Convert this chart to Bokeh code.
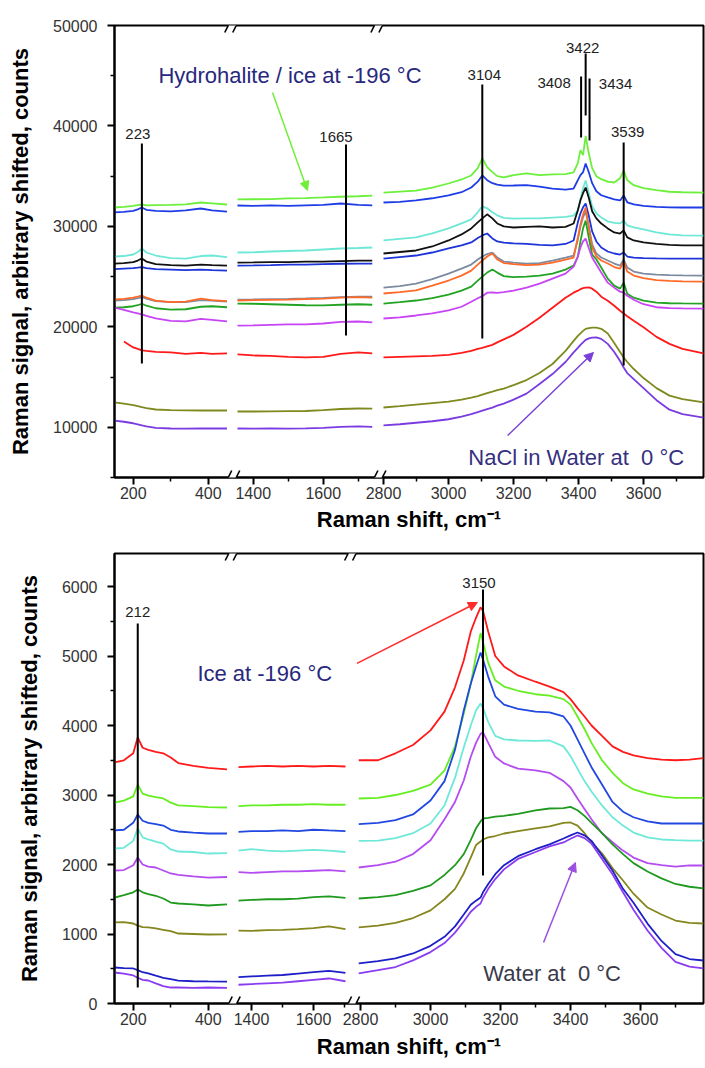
import numpy as np
from bokeh.plotting import figure
from bokeh.layouts import column
from bokeh.models import (FixedTicker, Range1d, Arrow, NormalHead,
                          NumeralTickFormatter, CustomJSTickFormatter, ColumnDataSource)
from bokeh.embed import file_html
from bokeh.resources import INLINE
from bokeh.core.properties import value

NAN = float("nan")
FONT = "Liberation Sans"
NB = "\u00a0"

# ======================= TOP PANEL DATA (NaCl solution) =======================
TOP_X1 = [150, 175, 200, 212, 223, 235, 260, 300, 340, 380, 410, 450]
TOP_X2 = [1355, 1400, 1450, 1500, 1550, 1600, 1650, 1700, 1740]
TOP_X3 = [2800, 2850, 2900, 2950, 3000, 3040, 3070, 3090, 3104, 3119, 3135, 3150, 3170,
          3200, 3240, 3280, 3320, 3360, 3385, 3398, 3406, 3414, 3422, 3432, 3442, 3455,
          3470, 3490, 3510, 3528, 3539, 3550, 3570, 3600, 3640, 3680, 3720, 3785]

G1_1 = [31880, 31950, 32050, 32120, 32180, 32100, 32120, 32150, 32200, 32380, 32300, 32180]
G1_2 = [32680, 32700, 32720, 32780, 32820, 32880, 32950, 33000, 33070]
G1_3 = [33370, 33470, 33570, 33870, 34270, 34670, 35070, 35800, 36760, 35900, 35400, 35000, 34870,
        35100, 35270, 35100, 35170, 35200, 35370, 36300, 37600, 37100, 39000, 37200, 35800, 35000,
        34700, 34450, 34370, 34800, 35550, 34600, 34100, 33800, 33600, 33450, 33400, 33370]

B1_1 = [31400, 31450, 31550, 31700, 31880, 31650, 31550, 31500, 31600, 31780, 31600, 31480]
B1_2 = [32080, 32050, 32100, 32050, 32100, 32150, 32280, 32150, 32100]
B1_3 = [32380, 32450, 32580, 32800, 33080, 33400, 33870, 34450, 35070, 34600, 34300, 34150, 34050,
        34070, 34100, 33950, 33770, 33650, 33770, 34600, 35100, 35400, 36260, 35370, 34300, 33500,
        33100, 32880, 32700, 32580, 33080, 32400, 32200, 32050, 31950, 31900, 31880, 31880]

C_1 = [27000, 27050, 27200, 27450, 27800, 27400, 27100, 26850, 26800, 27050, 27100, 26950]
C_2 = [27400, 27420, 27500, 27550, 27600, 27700, 27800, 27850, 27900]
C_3 = [28600, 28750, 28900, 29300, 29800, 30300, 30700, 31400, 32000, 31800, 31400, 31100, 30850,
       30780, 30790, 30800, 30880, 30950, 31080, 31600, 32700, 33800, 34570, 33300, 32000, 31300,
       30880, 30500, 30350, 30290, 30580, 30100, 29900, 29700, 29400, 29200, 29100, 29090]

K_1 = [26300, 26350, 26450, 26600, 26800, 26500, 26250, 26150, 26100, 26200, 26150, 26100]
K_2 = [26400, 26420, 26450, 26450, 26500, 26500, 26550, 26600, 26600]
K_3 = [27300, 27450, 27600, 28000, 28600, 29200, 29800, 30400, 30800, 31200, 30800, 30290, 30000,
       29890, 29950, 30000, 29890, 29950, 30290, 31600, 32600, 33300, 33870, 32800, 31500, 30800,
       30280, 29800, 29400, 29290, 29600, 28900, 28600, 28400, 28250, 28150, 28100, 28100]

B2_1 = [25750, 25800, 25850, 25900, 25950, 25850, 25750, 25700, 25650, 25700, 25650, 25600]
B2_2 = [26100, 26120, 26150, 26200, 26200, 26250, 26280, 26300, 26300]
B2_3 = [26800, 26950, 27100, 27400, 27800, 28100, 28400, 28850, 29100, 29290, 28800, 28500, 28380,
        28300, 28250, 28150, 28100, 28250, 28600, 30400, 31300, 31900, 32280, 31000, 29500, 28500,
        27900, 27500, 27300, 27200, 27400, 27000, 26900, 26850, 26820, 26800, 26800, 26800]

GR_1 = [22600, 22650, 22750, 22850, 22950, 22800, 22550, 22450, 22450, 22650, 22600, 22500]
GR_2 = [22700, 22720, 22750, 22780, 22820, 22870, 22950, 23000, 23000]
GR_3 = [23900, 24050, 24300, 24750, 25300, 25800, 26200, 26700, 27000, 27250, 27400, 26900, 26500,
        26400, 26300, 26350, 26600, 26900, 27100, 28700, 30000, 30900, 31500, 30000, 28200, 27300,
        26900, 26600, 26300, 26100, 26700, 25900, 25500, 25300, 25200, 25150, 25120, 25100]

O_1 = [22720, 22780, 22900, 23000, 23120, 22900, 22600, 22450, 22500, 22800, 22650, 22550]
O_2 = [22620, 22650, 22680, 22700, 22750, 22800, 22900, 22950, 22900]
O_3 = [23320, 23450, 23620, 24100, 24610, 25100, 25600, 26200, 26600, 27000, 27300, 26700, 26350,
       26250, 26150, 26200, 26400, 26700, 26900, 28900, 30200, 31200, 31880, 29800, 27900, 27000,
       26600, 26300, 25950, 25800, 26500, 25500, 25100, 24850, 24650, 24580, 24530, 24510]

DG_1 = [21920, 21950, 22050, 22150, 22300, 22100, 21850, 21720, 21750, 22000, 22050, 21950]
DG_2 = [22320, 22300, 22250, 22200, 22150, 22130, 22200, 22250, 22200]
DG_3 = [22320, 22450, 22620, 22850, 23200, 23600, 24000, 24600, 25000, 25400, 25700, 25400, 25050,
        24950, 25000, 25100, 25300, 25700, 26100, 27000, 28500, 29800, 30580, 28800, 27200, 26700,
        25900, 24800, 24100, 23800, 24400, 23300, 22900, 22600, 22420, 22350, 22330, 22320]

V_1 = [21920, 21700, 21450, 21350, 21250, 21100, 20850, 20600, 20550, 20800, 20700, 20550]
V_2 = [20130, 20150, 20200, 20250, 20250, 20330, 20500, 20530, 20450]
V_3 = [20830, 20950, 21130, 21350, 21650, 22000, 22500, 22850, 23050, 23400, 23420, 23380, 23450,
       23600, 23900, 24300, 24800, 25300, 26000, 27000, 27900, 28500, 28790, 27800, 26900, 26200,
       25400, 24400, 23900, 23500, 23400, 23100, 22700, 22250, 21950, 21870, 21840, 21820]

R_1 = [NAN, 18540, 17950, 17800, 17650, 17600, 17500, 17450, 17300, 17400, 17300, 17350]
R_2 = [17250, 17150, 17100, 17000, 16950, 17000, 17300, 17450, 17350]
R_3 = [16950, 17000, 17050, 17100, 17200, 17400, 17600, 17800, 17900, 18050, 18200, 18450, 18750,
       19200, 20000, 20900, 21900, 22900, 23400, 23600, 23750, 23850, 23900, 23920, 23800, 23500,
       23000, 22600, 22100, 21600, 21330, 21050, 20600, 19950, 19000, 18300, 17800, 17350]

OL_1 = [12470, 12350, 12200, 12100, 12000, 11900, 11770, 11700, 11680, 11670, 11680, 11670]
OL_2 = [11570, 11570, 11580, 11600, 11620, 11700, 11820, 11870, 11850]
OL_3 = [11970, 12100, 12250, 12400, 12550, 12750, 12950, 13100, 13250, 13400, 13550, 13700, 13850,
        14200, 14700, 15400, 16300, 17600, 18600, 19100, 19350, 19600, 19800, 19880, 19930, 19930,
        19800, 19330, 18400, 17500, 16950, 16500, 15800, 14900, 13900, 13150, 12800, 12470]

P_1 = [10670, 10550, 10400, 10300, 10200, 10100, 9950, 9880, 9870, 9880, 9880, 9880]
P_2 = [9880, 9870, 9880, 9870, 9900, 9950, 10050, 10080, 10050]
P_3 = [10180, 10300, 10450, 10600, 10800, 11050, 11300, 11500, 11650, 11800, 11950, 12150, 12350,
       12750, 13350, 14300, 15300, 16500, 17450, 17900, 18200, 18450, 18700, 18850, 18930, 18940,
       18800, 18300, 17500, 16600, 15950, 15400, 14800, 13900, 12700, 11750, 11300, 10970]

TOP_COLORS = ["#6cf03c", "#1f3de6", "#6ee8d6", "#111111", "#1c34d8", "#7d8ba0",
              "#ff6a28", "#23a323", "#c845f5", "#ff1a1a", "#7f8a1e", "#7a3ce0"]
TOP_SERIES = [(G1_1, G1_2, G1_3), (B1_1, B1_2, B1_3), (C_1, C_2, C_3), (K_1, K_2, K_3),
              (B2_1, B2_2, B2_3), (GR_1, GR_2, GR_3), (O_1, O_2, O_3), (DG_1, DG_2, DG_3),
              (V_1, V_2, V_3), (R_1, R_2, R_3), (OL_1, OL_2, OL_3), (P_1, P_2, P_3)]

TOP_PEAKS = [223, 1665, 3104, 3408, 3422, 3434, 3539]
TOP_PEAK_LO = [16350, 19140, 18840, 38850, 41040, 38550, 16150]
TOP_PEAK_HI = [38250, 38150, 44125, 44920, 47210, 44720, 38350]

# ======================= BOTTOM PANEL DATA (pure water) =======================
BOT_X1 = [150, 175, 200, 212, 225, 240, 260, 280, 300, 320, 360, 400, 450]
BOT_X2 = [1358, 1400, 1450, 1500, 1550, 1600, 1650, 1703]
BOT_X3 = [2795, 2850, 2900, 2950, 3000, 3040, 3070, 3095, 3115, 3130, 3143, 3150, 3165, 3185,
          3210, 3250, 3300, 3340, 3380, 3400, 3420, 3440, 3460, 3490, 3520, 3550, 3580, 3620,
          3660, 3700, 3740, 3780]

BR_1 = [3470, 3500, 3600, 3830, 3680, 3650, 3620, 3600, 3540, 3460, 3420, 3390, 3370]
BR_2 = [3400, 3410, 3420, 3410, 3420, 3410, 3420, 3410]
BR_3 = [3500, 3500, 3600, 3720, 3930, 4200, 4550, 4935, 5350, 5550, 5700, 5650, 5350, 5000, 4850,
        4720, 4630, 4560, 4480, 4380, 4250, 4130, 4000, 3850, 3700, 3620, 3570, 3530, 3510, 3500,
        3510, 3530]

BG_1 = [2890, 2920, 2980, 3150, 3020, 2990, 2970, 2950, 2890, 2850, 2840, 2825, 2820]
BG_2 = [2840, 2850, 2850, 2860, 2860, 2870, 2860, 2860]
BG_3 = [2950, 2960, 3000, 3060, 3150, 3350, 3700, 4170, 4600, 5000, 5330, 5200, 4900, 4650, 4560,
        4500, 4450, 4430, 4380, 4300, 4130, 3950, 3750, 3500, 3320, 3170, 3080, 3020, 2980, 2960,
        2960, 2960]

BB_1 = [2490, 2500, 2600, 2720, 2630, 2600, 2580, 2560, 2500, 2475, 2460, 2446, 2446]
BB_2 = [2470, 2480, 2480, 2490, 2480, 2500, 2490, 2480]
BB_3 = [2580, 2600, 2640, 2720, 2920, 3200, 3650, 4216, 4600, 4850, 5050, 4950, 4700, 4420, 4300,
        4240, 4200, 4190, 4130, 4000, 3800, 3600, 3400, 3150, 2900, 2760, 2680, 2620, 2590, 2590,
        2590, 2590]

BC_1 = [2230, 2240, 2340, 2520, 2390, 2360, 2330, 2300, 2216, 2187, 2180, 2158, 2165]
BC_2 = [2200, 2220, 2200, 2190, 2200, 2210, 2200, 2180]
BC_3 = [2340, 2345, 2380, 2450, 2590, 2850, 3250, 3684, 4000, 4216, 4317, 4250, 4050, 3850, 3800,
        3784, 3780, 3784, 3700, 3560, 3380, 3200, 3050, 2850, 2680, 2560, 2460, 2390, 2360, 2350,
        2345, 2345]

BV_1 = [1914, 1920, 1990, 2100, 2000, 1970, 1957, 1914, 1871, 1850, 1828, 1810, 1820]
BV_2 = [1890, 1880, 1890, 1900, 1900, 1910, 1920, 1900]
BV_3 = [1957, 1990, 2040, 2150, 2350, 2650, 2900, 3209, 3550, 3750, 3880, 3900, 3750, 3550, 3454,
        3380, 3353, 3320, 3200, 3108, 2950, 2800, 2650, 2450, 2320, 2200, 2100, 2020, 1990, 1970,
        1986, 1986]

BD_1 = [1525, 1560, 1600, 1640, 1600, 1575, 1550, 1511, 1453, 1439, 1425, 1410, 1425]
BD_2 = [1480, 1490, 1500, 1500, 1510, 1530, 1540, 1520]
BD_3 = [1511, 1530, 1560, 1620, 1700, 1850, 1990, 2150, 2350, 2520, 2620, 2662, 2670, 2690, 2700,
        2730, 2780, 2806, 2810, 2830, 2780, 2700, 2600, 2450, 2290, 2150, 2020, 1900, 1800, 1720,
        1680, 1655]

BO_1 = [1166, 1170, 1151, 1120, 1100, 1094, 1080, 1060, 1040, 1007, 1000, 993, 995]
BO_2 = [1050, 1045, 1055, 1060, 1070, 1085, 1110, 1070]
BO_3 = [1094, 1120, 1160, 1230, 1340, 1500, 1650, 1871, 2100, 2280, 2330, 2360, 2390, 2410, 2446,
        2480, 2520, 2550, 2600, 2605, 2560, 2450, 2320, 2160, 1950, 1770, 1580, 1381, 1280, 1194,
        1160, 1151]

BN_1 = [518, 510, 504, 480, 450, 432, 400, 370, 350, 330, 320, 317, 315]
BN_2 = [380, 390, 400, 410, 430, 450, 470, 440]
BN_3 = [576, 610, 650, 720, 830, 960, 1110, 1280, 1420, 1480, 1525, 1600, 1720, 1860, 1990, 2120,
        2220, 2290, 2374, 2420, 2460, 2420, 2340, 2130, 1914, 1650, 1450, 1150, 900, 710, 640, 619]

BP_1 = [446, 430, 403, 370, 340, 331, 290, 250, 230, 230, 225, 230, 225]
BP_2 = [270, 280, 290, 300, 320, 340, 360, 320]
BP_3 = [432, 480, 525, 620, 740, 870, 1020, 1180, 1320, 1390, 1439, 1520, 1650, 1790, 1930, 2080,
        2180, 2260, 2317, 2370, 2418, 2380, 2300, 2080, 1860, 1600, 1350, 1050, 800, 600, 530, 504]

BOT_COLORS = ["#ff1a1a", "#66ee22", "#2148e0", "#6ee8d8", "#b44cf0", "#1f9a1f",
              "#86861e", "#1f1fc8", "#8a3cf0"]
BOT_SERIES = [(BR_1, BR_2, BR_3), (BG_1, BG_2, BG_3), (BB_1, BB_2, BB_3), (BC_1, BC_2, BC_3),
              (BV_1, BV_2, BV_3), (BD_1, BD_2, BD_3), (BO_1, BO_2, BO_3), (BN_1, BN_2, BN_3),
              (BP_1, BP_2, BP_3)]

BOT_PEAKS = [212, 3150]
BOT_PEAK_LO = [230, 1842]
BOT_PEAK_HI = [5468, 5957]

X_MAJOR = [200, 400, 1400, 1600, 2800, 3000, 3200, 3400, 3600]
X_MINOR = [300, 1500, 1700, 2900, 3100, 3300, 3500, 3700]


# ---------------- broken-axis scale ----------------
def make_scale(segs):
    # segs: (raw_lo, raw_hi, u_at_lo, px_per_unit)
    def f(x):
        for i, (lo, hi, u0, k) in enumerate(segs):
            if i == len(segs) - 1 or x <= (hi + segs[i + 1][0]) / 2:
                return u0 + (x - lo) * k
    return f


def break_positions(segs):
    out = []
    for a, b in zip(segs[:-1], segs[1:]):
        end_u = a[2] + (a[1] - a[0]) * a[3]
        out.append((end_u + b[2]) / 2)
    return out


def style_axis(ax):
    ax.axis_line_width = 2
    ax.axis_line_color = "black"
    ax.major_tick_line_width = 2
    ax.major_tick_line_color = "black"
    ax.major_tick_in = 0
    ax.major_tick_out = 7
    ax.minor_tick_line_width = 1.5
    ax.minor_tick_line_color = "black"
    ax.minor_tick_in = 0
    ax.minor_tick_out = 4
    ax.major_label_text_font = FONT
    ax.major_label_text_font_size = "16px"
    ax.major_label_text_color = "#333333"
    ax.axis_label_text_font = FONT
    ax.axis_label_text_font_size = "22px"
    ax.axis_label_text_font_style = "bold"
    ax.axis_label_text_color = "black"


def stroke(p, x0, y0, x1, y1, color, width):
    p.add_layout(Arrow(start=None, end=None, x_start=x0, y_start=y0, x_end=x1, y_end=y1,
                       line_color=color, line_width=width))


def build_panel(height, b_top, b_bottom, yr, yticks, yminor, segs, grids, series, colors,
                peaks, plo, phi, pdx, pdy, x_label_standoff):
    sc = make_scale(segs)
    frame_h = height - b_top - b_bottom
    ypx = (yr[1] - yr[0]) / frame_h          # data units per screen pixel (y)
    p = figure(width=705, height=height, x_range=Range1d(0, 589), y_range=Range1d(*yr),
               output_backend="svg", toolbar_location=None,
               min_border_left=114, min_border_right=2, min_border_top=b_top,
               min_border_bottom=b_bottom)
    p.grid.visible = False
    p.outline_line_color = "black"
    p.outline_line_width = 2
    p.background_fill_color = "white"
    p.border_fill_color = "white"

    tick_pos = [sc(v) for v in X_MAJOR]
    tick_lab = [str(v) for v in X_MAJOR]
    minor_pos = [sc(v) for v in X_MINOR]
    fmt = CustomJSTickFormatter(args=dict(pos=tick_pos, lab=tick_lab), code="""
        for (let i = 0; i < pos.length; i++) {
            if (Math.abs(tick - pos[i]) < 0.01) { return lab[i]; }
        }
        return "";
    """)
    xa = p.xaxis[0]
    xa.ticker = FixedTicker(ticks=tick_pos, minor_ticks=minor_pos)
    xa.formatter = fmt
    style_axis(xa)
    xa.major_label_standoff = 2
    xa.axis_label = "Raman shift, cm\u207b\u00b9"
    xa.axis_label_standoff = x_label_standoff

    # tick marks along the top edge (outward), no labels
    for t in tick_pos:
        stroke(p, t, yr[1], t, yr[1] + 7 * ypx, "black", 2)
    for t in minor_pos:
        stroke(p, t, yr[1], t, yr[1] + 4 * ypx, "black", 1.5)

    ya = p.yaxis[0]
    ya.ticker = FixedTicker(ticks=yticks, minor_ticks=yminor)
    ya.formatter = NumeralTickFormatter(format="0")
    style_axis(ya)
    ya.major_label_standoff = 10
    ya.axis_label = "Raman signal, arbitrary shifted, counts"
    ya.axis_label_standoff = 17

    for segvals, color in zip(series, colors):
        for grid, vals in zip(grids, segvals):
            p.line([sc(x) for x in grid], np.array(vals, dtype=float),
                   line_color=color, line_width=1.8)

    src = ColumnDataSource(dict(x=[sc(v) for v in peaks], y0=plo, y1=phi,
                                lab=[str(v) for v in peaks], dx=pdx, dy=pdy))
    p.segment(x0="x", y0="y0", x1="x", y1="y1", source=src, line_color="black", line_width=2)
    p.text(x="x", y="y1", text="lab", x_offset="dx", y_offset="dy", source=src,
           text_align="center", text_baseline="alphabetic", text_font=value(FONT),
           text_font_size="15px", text_color="#222222")

    # axis-break marks "//" on the top and bottom edges
    for bu in break_positions(segs):
        for yy in yr:
            stroke(p, bu - 4, yy, bu + 4, yy, "white", 4)
            for dx in (-4, 4):
                stroke(p, bu + dx - 3.5, yy - 7 * ypx, bu + dx + 3.5, yy + 7 * ypx, "black", 1.6)
    return p, sc


def add_note(p, sc, x, y, text, color):
    p.text(x=[sc(x)], y=[y], text=[text], text_align="left", text_baseline="alphabetic",
           text_font=value(FONT), text_font_size="22px", text_color=color)


def add_arrow(p, sc, x0, y0, x1, y1, color):
    p.add_layout(Arrow(end=NormalHead(size=9, line_color=color, fill_color=color, line_width=1),
                       x_start=sc(x0), y_start=y0, x_end=sc(x1), y_end=y1,
                       line_color=color, line_width=1.5))


TOP_SEGS = [(150, 450, 0.0, 0.375), (1355, 1743, 123.0, 0.35), (2800, 3785, 269.0, 0.325)]
BOT_SEGS = [(150, 450, 0.0, 0.375), (1358, 1703, 124.0, 0.31), (2795, 3780, 244.25, 0.35)]

p1, sc1 = build_panel(537, 25, 60, (5000, 50000),
                      [10000, 20000, 30000, 40000, 50000],
                      [5000, 15000, 25000, 35000, 45000],
                      TOP_SEGS, [TOP_X1, TOP_X2, TOP_X3], TOP_SERIES, TOP_COLORS,
                      TOP_PEAKS, TOP_PEAK_LO, TOP_PEAK_HI,
                      [-4, -10, 2, -27, -3, 26, 4], [-10, -8, -10, 6, -6, 5, -11], 5)
add_note(p1, sc1, 267, 45022, "Hydrohalite / ice at -196 \u00b0C", "#28287e")
add_note(p1, sc1, 3061, 6990, "NaCl in Water at" + NB + " 0 \u00b0C", "#35307f")
add_arrow(p1, sc1, 1455, 43330, 1555, 33570, "#72ee3a")
add_arrow(p1, sc1, 3182, 9180, 3446, 17444, "#7a3fd6")

p2, sc2 = build_panel(531, 16, 65, (0, 6475),
                      [0, 1000, 2000, 3000, 4000, 5000, 6000],
                      [500, 1500, 2500, 3500, 4500, 5500],
                      BOT_SEGS, [BOT_X1, BOT_X2, BOT_X3], BOT_SERIES, BOT_COLORS,
                      BOT_PEAKS, BOT_PEAK_LO, BOT_PEAK_HI,
                      [0, -4], [-11, -7], 6)
add_note(p2, sc2, 371, 4749, "Ice at -196 \u00b0C", "#28287e")
add_note(p2, sc2, 3151, 432, "Water at" + NB + " 0 \u00b0C", "#3a3a4a")
add_arrow(p2, sc2, 2790, 4893, 3134, 5770, "#ff2a2a")
add_arrow(p2, sc2, 3323, 878, 3414, 2029, "#9a4fe0")

layout = column(p1, p2)
open("out.html", "w").write(file_html(layout, INLINE))
